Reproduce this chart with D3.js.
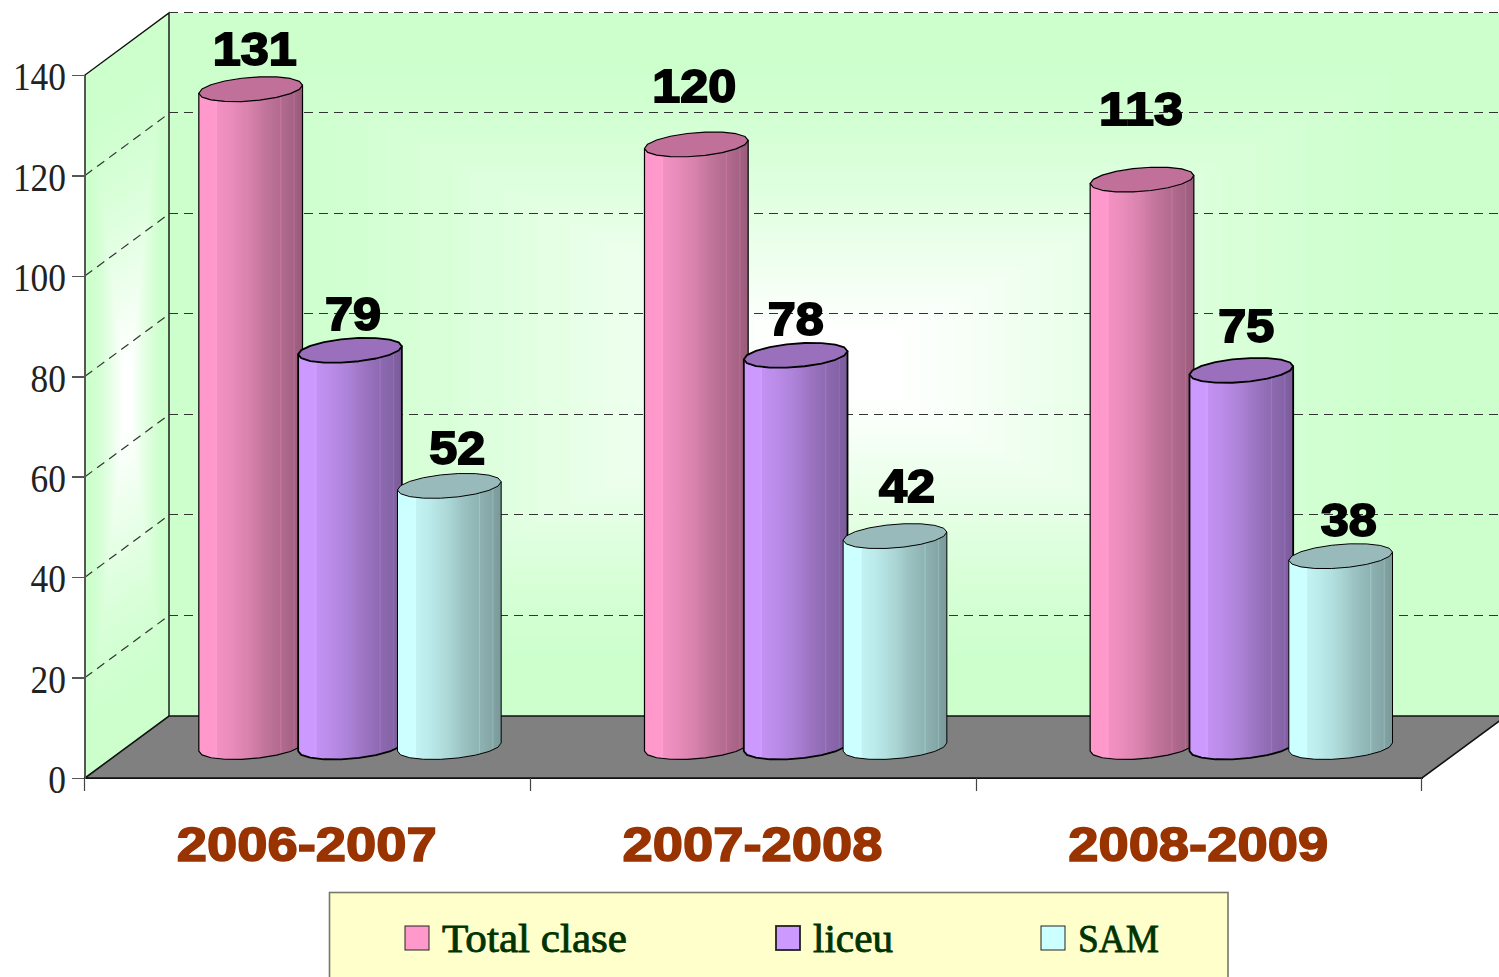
<!DOCTYPE html>
<html>
<head>
<meta charset="utf-8">
<title>Total clase, liceu, SAM</title>
<style>
html, body { margin: 0; padding: 0; background: #fff; overflow: hidden; }
svg { display: block; }
.axis text { font-family: "Liberation Serif", serif; font-size: 39px; fill: #222; }
.axis path, .axis line { fill: none; stroke: #555; stroke-width: 1.5; shape-rendering: crispEdges; }
.grid { stroke: #333; stroke-width: 1.2; stroke-dasharray: 9 6; fill: none; }
.value { font-family: "Liberation Sans", Arial, sans-serif; font-weight: 700; font-size: 46px; text-anchor: middle; fill: #000; stroke: #000; stroke-width: 1.8; }
.cat { font-family: "Liberation Sans", Arial, sans-serif; font-weight: 700; font-size: 49px; text-anchor: middle; fill: #993300; stroke: #993300; stroke-width: 1.6; }
.legend-text { font-family: "Liberation Serif", serif; font-size: 39px; fill: #003300; stroke: #003300; stroke-width: .8; }
</style>
</head>
<body>
<script src="https://cdn.jsdelivr.net/npm/d3@7"></script>
<script>
// chart data
var categories = ["2006-2007", "2007-2008", "2008-2009"];
var seriesNames = ["Total clase", "liceu", "SAM"];
var totalClase = [131, 120, 113];
var liceu = [79, 78, 75];
var sam = [52, 42, 38];
var yTicks = [0, 20, 40, 60, 80, 100, 120, 140];

// styling per series
var seriesColors = ["#ff99cc", "#cc99ff", "#ccffff"];
var topColors = ["#c07099", "#9a70bd", "#99baba"];
var outlineWidths = [1.2, 1.8, 1];

// the value labels were placed by hand in the original: [dx, lift above the bar top]
var labelNudge = [
    [[4, 24], [3, 20], [8, 22]],
    [[-2, 42], [0, 20], [12, 34]],
    [[-1, 55], [5, 28], [8, 20]]
];

// the original fonts are wider than what is installed, so stretch to these widths
var legendTextWidths = [185, 80, 81];
var catTextWidth = 260, digitWidth = 28, axisDigitWidth = 17.7;

var width = 1499, height = 977;
var depthX = 84, depthY = -62; // oblique offset from front of the floor to the back wall

var svg = d3.select("body").append("svg")
    .attr("width", width)
    .attr("height", height);

var yScale = d3.scaleLinear().domain([0, 140]).range([778, 75]);
var xScale = d3.scaleBand().domain(categories).range([85, 1422]);
var xInner = d3.scaleBand().domain(seriesNames).range([74, 372]);

var floorY = yScale(0);
var backLeft = 85 + depthX, backRight = 1422 + depthX;
var backTop = yScale(140) + depthY, backBottom = floorY + depthY;

var defs = svg.append("defs");

// stepped horizontal shading so the cylinders look faceted, with thin light seams
var facets = [
    [0, 1], [.15, 1], [.165, 1.02], [.175, 1.02], [.18, .95], [.3, .92], [.45, .86], [.5, .84], [.62, .77],
    [.66, .75], [.78, .7], [.79, .78], [.8, .69], [.91, .65], [.92, .72], [.93, .63], [1, .6]
];
seriesNames.forEach(function(name, i) {
    var c = d3.rgb(seriesColors[i]);
    var grad = defs.append("linearGradient").attr("id", "shade" + i);
    facets.forEach(function(f) {
        grad.append("stop")
            .attr("offset", f[0])
            .attr("stop-color", d3.rgb(Math.min(255, c.r * f[1]), Math.min(255, c.g * f[1]), Math.min(255, c.b * f[1])));
    });
});

// rectangular "from centre" wall fill, built from nested shapes
var wallColor = d3.interpolateRgb("#ccffcc", "#ffffff");
function wallTone(t) {
    return wallColor(Math.min(1, Math.pow(Math.max(0, (t - .12) / .78), 1.3)));
}
var steps = d3.range(0, 40).map(function(d) { return d / 40; });

var backWall = svg.append("g");
backWall.selectAll("rect").data(steps).enter().append("rect")
    .attr("x", function(t) { return backLeft + t / 2 * (backRight - backLeft); })
    .attr("y", function(t) { return backTop + t / 2 * (backBottom - backTop); })
    .attr("width", function(t) { return (1 - t) * (backRight - backLeft); })
    .attr("height", function(t) { return (1 - t) * (backBottom - backTop); })
    .attr("fill", wallTone);

function sideWallPoint(u, v) {
    return [85 + depthX * u, floorY + (yScale(140) - floorY) * v + depthY * u];
}
var sideWall = svg.append("g");
sideWall.selectAll("path").data(steps).enter().append("path")
    .attr("d", function(t) {
        var a = t / 2, b = 1 - t / 2;
        return d3.line()([sideWallPoint(a, a), sideWallPoint(b, a), sideWallPoint(b, b), sideWallPoint(a, b)]) + "Z";
    })
    .attr("fill", wallTone);

// wall and floor outlines
svg.append("path")
    .attr("d", d3.line()([[85, floorY], [85, yScale(140)], [backLeft, backTop], [backLeft, backBottom]]))
    .attr("fill", "none").attr("stroke", "#111").attr("stroke-width", 1.4);
svg.append("path")
    .attr("d", d3.line()([[85, floorY], [backLeft, backBottom], [backRight, backBottom], [1422, floorY]]) + "Z")
    .attr("fill", "#808080").attr("stroke", "#111").attr("stroke-width", 1.6);

// gridlines, back wall and side wall
var gridTicks = yTicks.slice(1);
svg.selectAll(".back-grid").data(gridTicks).enter().append("line")
    .attr("class", "grid back-grid")
    .attr("x1", backLeft).attr("x2", backRight)
    .attr("y1", function(d) { return Math.round(yScale(d) + depthY) - .5; })
    .attr("y2", function(d) { return Math.round(yScale(d) + depthY) - .5; });
svg.selectAll(".side-grid").data(yTicks.slice(1, -1)).enter().append("line")
    .attr("class", "grid side-grid")
    .attr("x1", 85).attr("x2", backLeft)
    .attr("y1", function(d) { return yScale(d); })
    .attr("y2", function(d) { return yScale(d) + depthY; });

// axes
var yAxis = d3.axisLeft(yScale).tickValues(yTicks).tickSize(13).tickPadding(6).tickSizeOuter(0);
var gy = svg.append("g").attr("class", "axis")
    .attr("transform", "translate(85,0)")
    .call(yAxis);
gy.selectAll("text")
    .attr("dy", "0.38em")
    .attr("lengthAdjust", "spacingAndGlyphs")
    .attr("textLength", function(d) { return String(d).length * axisDigitWidth; });

var xAxis = d3.axisBottom(xScale).tickValues([]).tickSizeOuter(0);
svg.append("g").attr("class", "axis")
    .attr("transform", "translate(0," + floorY + ")")
    .call(xAxis)
    .select("path").style("stroke", "#111");
var xEdges = categories.map(function(c) { return xScale(c); }).concat([xScale.range()[1]]);
svg.selectAll(".x-tick").data(xEdges).enter().append("line")
    .attr("class", "x-tick")
    .attr("x1", function(d) { return Math.ceil(d) - .5; })
    .attr("x2", function(d) { return Math.ceil(d) - .5; })
    .attr("y1", floorY).attr("y2", floorY + 13)
    .attr("stroke", "#444").attr("stroke-width", 1.2);

svg.selectAll(".cat").data(categories).enter().append("text")
    .attr("class", "cat")
    .attr("x", function(d) { return xScale(d) + xScale.bandwidth() / 2 - 1; })
    .attr("y", 861)
    .attr("lengthAdjust", "spacingAndGlyphs")
    .attr("textLength", catTextWidth)
    .text(function(d) { return d; });

// cylinders
var radiusX = 49, depthRadius = 12.5;
var skewX = depthRadius * depthX / -depthY;
var edgeAngle = Math.atan2(skewX, radiusX);
var ringLine = d3.line();

function ringPoint(cx, cy, t) {
    return [cx + radiusX * Math.cos(t) + skewX * Math.sin(t), cy - depthRadius * Math.sin(t)];
}
// outline of a full top ellipse, coarse on purpose like the original facets
function ring(cx, cy) {
    return d3.range(0, 18).map(function(i) {
        return ringPoint(cx, cy, edgeAngle + i / 18 * 2 * Math.PI);
    });
}
function cylinderBody(cx, topY, baseY) {
    var pts = [ringPoint(cx, topY, edgeAngle)];
    for (var i = 0; i <= 9; i++) pts.push(ringPoint(cx, baseY, edgeAngle - i / 9 * Math.PI));
    pts.push(ringPoint(cx, topY, edgeAngle + Math.PI));
    return ringLine(pts) + "Z";
}

var allSeries = [totalClase, liceu, sam];
var barShiftX = depthX / 2, barShiftY = depthY / 2;

categories.forEach(function(cat, c) {
    seriesNames.forEach(function(name, s) {
        var v = allSeries[s][c];
        var cx = xScale(cat) + xInner(name) + xInner.bandwidth() / 2 + barShiftX;
        var topY = yScale(v) + barShiftY;
        var baseY = yScale(0) + barShiftY;
        svg.append("path")
            .attr("d", cylinderBody(cx, topY, baseY))
            .attr("fill", "url(#shade" + s + ")")
            .attr("stroke", "#000").attr("stroke-width", outlineWidths[s])
            .attr("stroke-linejoin", "round");
        svg.append("path")
            .attr("d", ringLine(ring(cx, topY)) + "Z")
            .attr("fill", topColors[s])
            .attr("stroke", "#000").attr("stroke-width", outlineWidths[s])
            .attr("stroke-linejoin", "round");
    });
});

// value labels go on top of every bar
categories.forEach(function(cat, c) {
    seriesNames.forEach(function(name, s) {
        var v = allSeries[s][c];
        var cx = xScale(cat) + xInner(name) + xInner.bandwidth() / 2 + barShiftX;
        svg.append("text")
            .attr("class", "value")
            .attr("x", cx + labelNudge[c][s][0])
            .attr("y", yScale(v) + barShiftY - labelNudge[c][s][1])
            .attr("lengthAdjust", "spacingAndGlyphs")
            .attr("textLength", String(v).length * digitWidth)
            .text(v);
    });
});

// legend
svg.append("rect")
    .attr("x", 329.5).attr("y", 892.5)
    .attr("width", 898.5).attr("height", 100)
    .attr("fill", "#ffffcc").attr("stroke", "#77776a").attr("stroke-width", 1.6);

var legendSwatchX = [405, 776, 1041];
var legend = svg.selectAll(".legend").data(seriesNames).enter().append("g")
    .attr("class", "legend")
    .attr("transform", function(d, i) { return "translate(" + legendSwatchX[i] + ",926)"; });
legend.append("rect")
    .attr("width", 24).attr("height", 24)
    .attr("fill", function(d, i) { return seriesColors[i]; })
    .attr("stroke", "#222").attr("stroke-width", function(d, i) { return i == 1 ? 1.8 : 1; });
legend.append("text")
    .attr("class", "legend-text")
    .attr("x", 37).attr("y", 26)
    .attr("lengthAdjust", "spacingAndGlyphs")
    .attr("textLength", function(d, i) { return legendTextWidths[i]; })
    .text(function(d) { return d; });
</script>
</body>
</html>
